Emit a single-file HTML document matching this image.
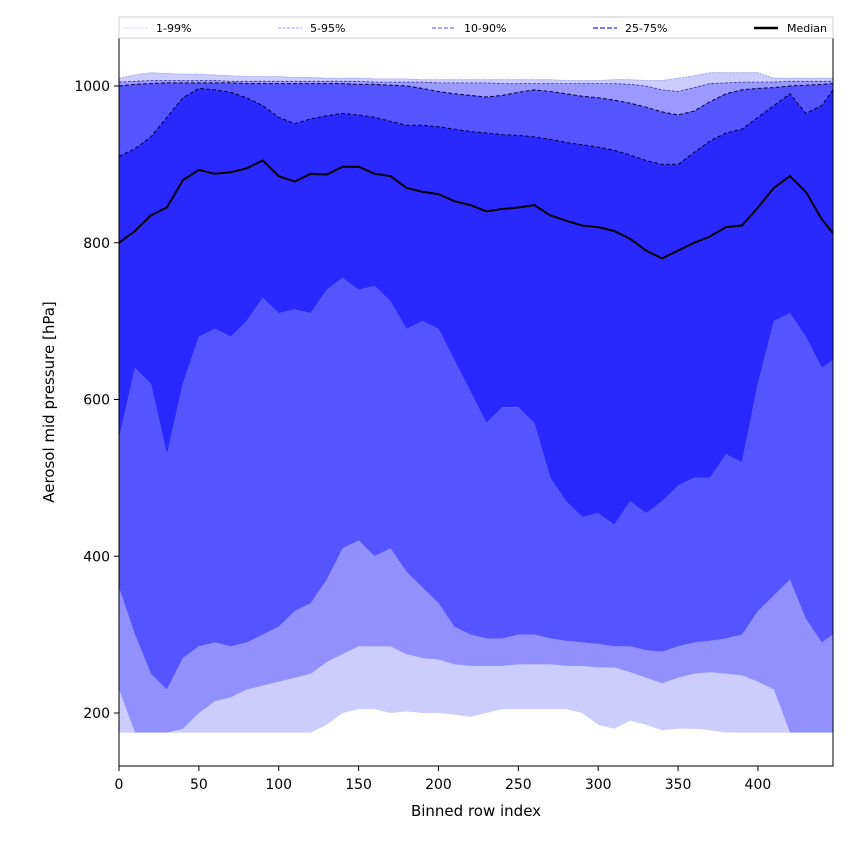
<!DOCTYPE html>
<html><head><meta charset="utf-8"><style>
body{margin:0;background:#fff;}
svg{display:block;font-family:"DejaVu Sans","Liberation Sans",sans-serif;}
</style></head><body>
<svg id="chart" width="850" height="850" viewBox="0 0 850 850">
<rect width="850" height="850" fill="#fff"/>
<g id="bands"></g>
<g id="lines"></g>
<rect x="119" y="38" width="714" height="728" fill="none" stroke="#000" stroke-width="1"/>
<g id="xticks"></g>
<g id="yticks"></g>
<text x="476" y="816" text-anchor="middle" font-size="15">Binned row index</text>
<text transform="translate(54,402) rotate(-90)" text-anchor="middle" font-size="15">Aerosol mid pressure [hPa]</text>
<g>
<rect x="119" y="17" width="714" height="21" fill="#fff" stroke="#ccc"/>
<g><line x1="124" y1="28" x2="148" y2="28" stroke="#ccccff" stroke-width="1" stroke-dasharray="2,1"/><text x="156" y="32" font-size="11">1-99%</text></g>
<g><line x1="278" y1="28" x2="302" y2="28" stroke="#9999ff" stroke-width="1" stroke-dasharray="3,1.5"/><text x="310" y="32" font-size="11">5-95%</text></g>
<g><line x1="432" y1="28" x2="456" y2="28" stroke="#7777ee" stroke-width="1.3" stroke-dasharray="4,2"/><text x="464" y="32" font-size="11">10-90%</text></g>
<g><line x1="593" y1="28" x2="617" y2="28" stroke="#6666ff" stroke-width="1.8" stroke-dasharray="5,2"/><text x="625" y="32" font-size="11">25-75%</text></g>
<g><line x1="754" y1="28" x2="778" y2="28" stroke="#000" stroke-width="2.5"/><text x="787" y="32" font-size="11">Median</text></g>
</g>
</svg>
<script>
const xs=[0,10,20,30,40,50,60,70,80,90,100,110,120,130,140,150,160,170,180,190,200,210,220,230,240,250,260,270,280,290,300,310,320,330,340,350,360,370,380,390,400,410,420,430,440,447];
const p99=[1010,1014,1017,1016,1015,1015,1014,1013,1012,1012,1012,1011,1011,1010,1010,1010,1009,1009,1009,1008,1008,1008,1008,1008,1008,1008,1008,1008,1007,1007,1007,1008,1008,1007,1007,1010,1013,1017,1017,1017,1017,1010,1010,1010,1010,1010];
const p95=[1005,1006,1007,1007,1007,1007,1007,1006,1006,1006,1006,1006,1006,1006,1006,1006,1005,1005,1005,1005,1004,1004,1004,1004,1003,1003,1003,1003,1003,1003,1003,1003,1002,1000,995,993,998,1003,1004,1005,1005,1005,1006,1006,1006,1006];
const p90=[1000,1002,1003,1004,1004,1004,1004,1004,1003,1003,1003,1003,1003,1003,1003,1002,1002,1001,1000,997,993,990,988,986,988,992,995,993,990,987,985,982,978,973,967,963,968,980,990,995,997,998,1000,1001,1002,1003];
const p75=[910,920,935,960,985,997,995,992,985,975,960,952,958,962,965,963,960,955,950,950,948,945,942,940,938,937,935,932,928,925,922,918,912,905,900,900,915,930,940,945,960,975,990,965,975,995];
const median=[800,815,835,845,880,893,888,890,895,905,885,878,888,887,897,897,888,885,870,865,862,853,848,840,843,845,848,835,828,822,820,815,805,790,780,790,800,808,820,822,845,870,885,865,830,812];
const p25=[550,640,620,530,620,680,690,680,700,730,710,715,710,740,755,740,745,725,690,700,690,650,610,570,590,590,570,500,470,450,455,440,470,455,470,490,500,500,530,520,620,700,710,680,640,650];
const p10=[360,300,250,230,270,285,290,285,290,300,310,330,340,370,410,420,400,410,380,360,340,310,300,295,295,300,300,295,292,290,288,285,285,280,278,285,290,292,295,300,330,350,370,320,290,300];
const p5=[230,175,175,175,180,200,215,220,230,235,240,245,250,265,275,285,285,285,275,270,268,262,260,260,260,262,262,262,260,260,258,258,252,245,238,245,250,252,250,248,240,230,175,175,175,175];
const p1=[175,175,175,175,175,175,175,175,175,175,175,175,175,185,200,205,205,200,202,200,200,198,195,200,205,205,205,205,205,200,185,180,190,185,178,180,180,178,175,175,175,175,175,175,175,175];
const xTicks=[0,50,100,150,200,250,300,350,400];
const yTicks=[200,400,600,800,1000];

const NS="http://www.w3.org/2000/svg";
const X=v=>119+v*(714/447);
const Y=v=>86+(1000-v)*0.78375;
const pts=(a)=>xs.map((x,i)=>X(x).toFixed(1)+","+Y(a[i]).toFixed(1));
const bands=document.getElementById('bands');
function band(lo,hi,color,name){
  const p=document.createElementNS(NS,'polygon');
  p.setAttribute('points',pts(lo).concat(pts(hi).reverse()).join(' '));
  p.setAttribute('fill',color);
  
  
  bands.appendChild(p);
}
band(p1,p5,'#ccccff','band-1-5');
band(p5,p10,'#9090ff','band-5-10');
band(p10,p25,'#5555ff','band-10-25');
band(p25,p75,'#2828ff','band-25-75');
band(p75,p90,'#5555ff','band-75-90');
band(p90,p95,'#9999ff','band-90-95');
band(p95,p99,'#ccccff','band-95-99');
const lines=document.getElementById('lines');
function line(a,color,w,dash,name){
  const l=document.createElementNS(NS,'polyline');
  l.setAttribute('points',pts(a).join(' '));
  l.setAttribute('fill','none');
  l.setAttribute('stroke',color);
  l.setAttribute('stroke-width',w);
  if(dash)l.setAttribute('stroke-dasharray',dash);
  
  
  lines.appendChild(l);
}
line(p99,'#9999ee',0.8,'2,1','line-p99');
line(p95,'#333399',0.8,'3,1.5','line-p95');
line(p90,'#000044',1,'4,2','line-p90');
line(p75,'#000044',1,'4,2','line-p75');
line(median,'#000',2,null,'median-line');
const xg=document.getElementById('xticks');
xTicks.forEach(v=>{
  const t=document.createElementNS(NS,'line');
  t.setAttribute('x1',X(v));t.setAttribute('x2',X(v));t.setAttribute('y1',766);t.setAttribute('y2',771);
  t.setAttribute('stroke','#000');
  
  
  xg.appendChild(t);
  const s=document.createElementNS(NS,'text');
  s.setAttribute('x',X(v));s.setAttribute('y',789);s.setAttribute('text-anchor','middle');s.setAttribute('font-size','14');
  s.textContent=v;
  
  
  xg.appendChild(s);
});
const yg=document.getElementById('yticks');
yTicks.forEach(v=>{
  const t=document.createElementNS(NS,'line');
  t.setAttribute('x1',114);t.setAttribute('x2',119);t.setAttribute('y1',Y(v));t.setAttribute('y2',Y(v));
  t.setAttribute('stroke','#000');
  
  
  yg.appendChild(t);
  const s=document.createElementNS(NS,'text');
  s.setAttribute('x',110);s.setAttribute('y',Y(v)+5);s.setAttribute('text-anchor','end');s.setAttribute('font-size','14');
  s.textContent=v;
  
  
  yg.appendChild(s);
});
</script>
</body></html>
